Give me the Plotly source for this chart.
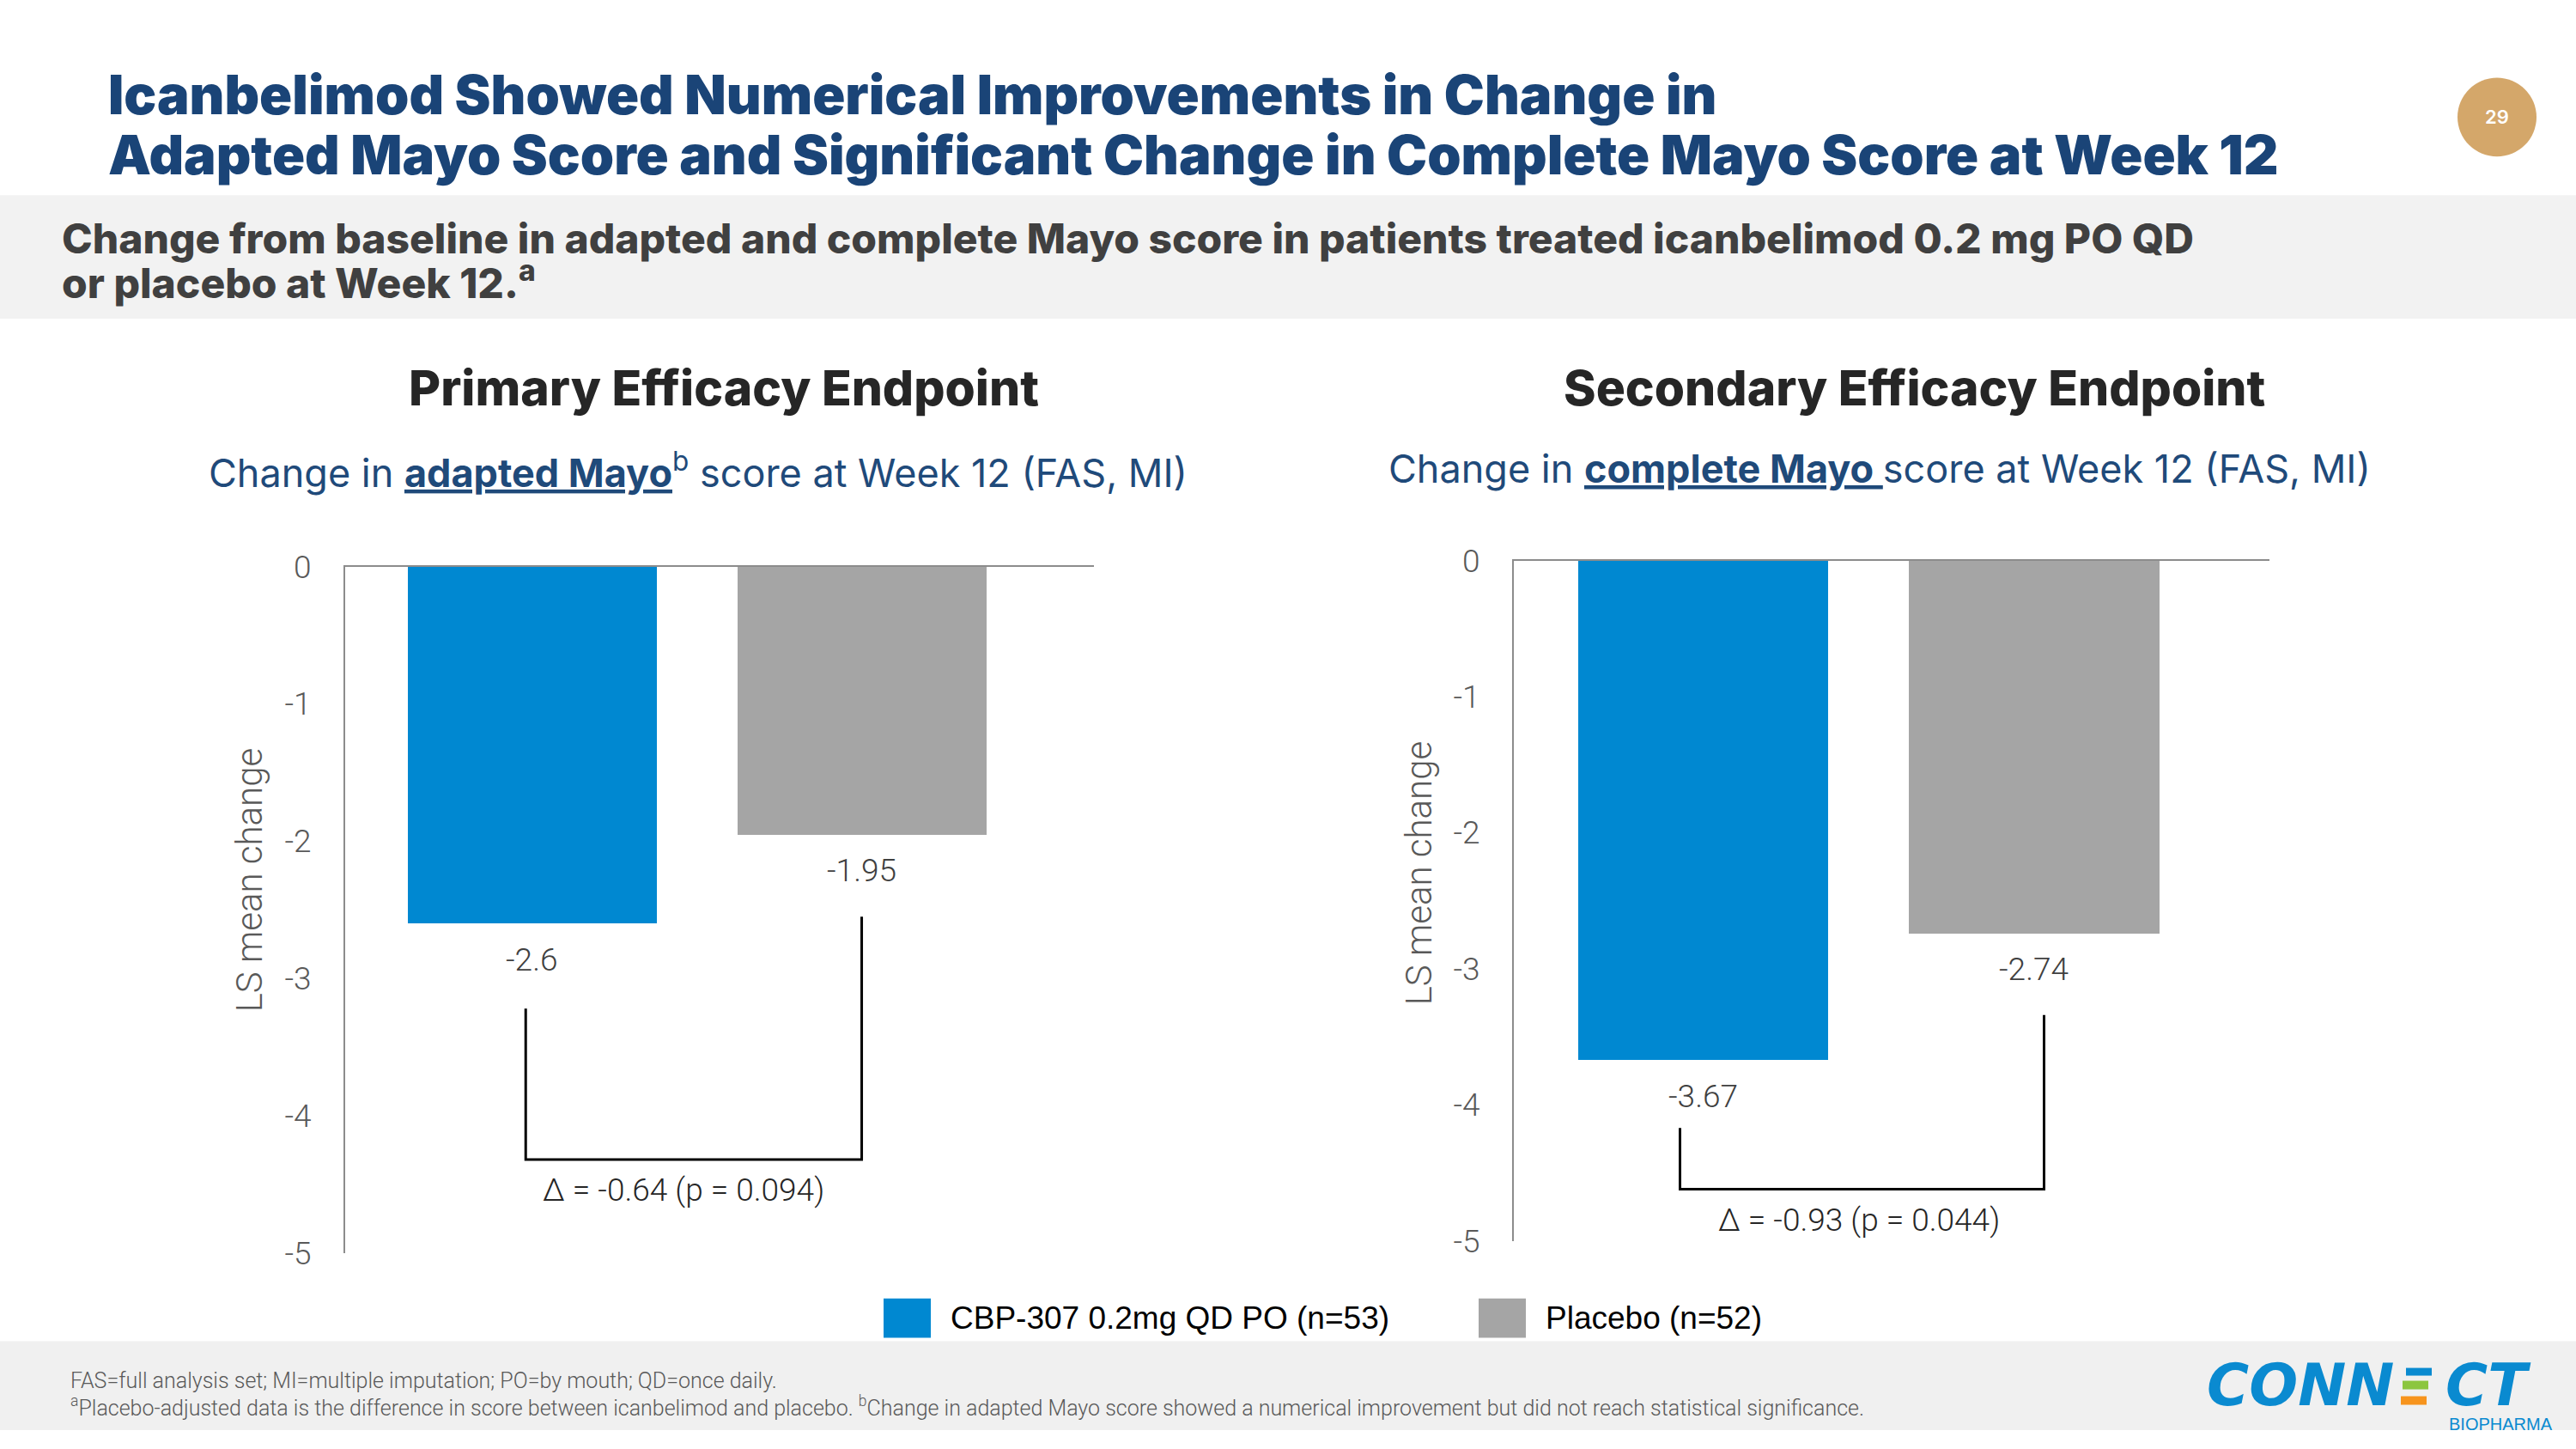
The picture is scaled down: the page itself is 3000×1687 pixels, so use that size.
import plotly.graph_objects as go

W, H = 3000, 1687

# ---------------- data ----------------
groups = ["CBP-307 0.2mg QD PO (n=53)", "Placebo (n=52)"]
bar_colors = ["#0088D1", "#A5A5A5"]
adapted_mayo = [-2.6, -1.95]        # primary endpoint, LS mean change
complete_mayo = [-3.67, -2.74]      # secondary endpoint, LS mean change
delta_labels = ["Δ = -0.64 (p = 0.094)", "Δ = -0.93 (p = 0.044)"]
y_ticks = [0, -1, -2, -3, -4, -5]
y_tick_labels = ["0", "-1", "-2", "-3", "-4", "-5"]
y_title = "LS mean change"
panel_titles = ["Primary Efficacy Endpoint", "Secondary Efficacy Endpoint"]
panel_subtitles = [
    "Change in <b><u>adapted Mayo</u></b><sup>b</sup> score at Week 12 (FAS, MI)",
    "Change in <b><u>complete Mayo </u></b>score at Week 12 (FAS, MI)",
]
title_lines = [
    "Icanbelimod Showed Numerical Improvements in Change in",
    "Adapted Mayo Score and Significant Change in Complete Mayo Score at Week 12",
]
subtitle_lines = [
    "Change from baseline in adapted and complete Mayo score in patients treated icanbelimod 0.2 mg PO QD",
    "or placebo at Week 12.<sup>a</sup>",
]
footnotes = [
    "FAS=full analysis set; MI=multiple imputation; PO=by mouth; QD=once daily.",
    "<sup>a</sup>Placebo-adjusted data is the difference in score between icanbelimod and placebo. "
    "<sup>b</sup>Change in adapted Mayo score showed a numerical improvement but did not reach statistical significance.",
]
# bracket geometry (offsets below each bar value, bottom level, leg x positions)
bracket_gap = [[0.62, 0.60], [0.50, 0.60]]
bracket_bottom = [-4.32, -4.62]
bracket_x = [[-0.02, 1.0], [-0.07, 1.03]]
delta_x = [0.46, 0.47]

# ---------------- helpers ----------------
# vertical placement helper (slide pixel -> paper fraction, with the
# capture's vertical scale/offset taken into account)
V_SCALE = 1729 / 1687
V_OFF = 21

def px(x):
    return x / W

def py(y):
    return 1 - (y * V_SCALE - V_OFF) / H

def sh(v):
    return v * V_SCALE

TXT_GRAY = "#595959"
AXIS_GRAY = "#8C8C8C"
FOOTER_GRAY = "#F0F0F0"

fig = go.Figure()

panels = [adapted_mayo, complete_mayo]
axis_ids = [("x", "y"), ("x2", "y2")]
x_domains = [[px(402), px(1274)], [px(1763), px(2643)]]
y_domains = [[py(1460), py(660)], [py(1446), py(653)]]
x_ranges = [[-0.568, 1.705], [-0.572, 1.711]]
y_title_pos = [(290, 1026), (1652, 1018)]

for i, vals in enumerate(panels):
    xa, ya = axis_ids[i]
    fig.add_trace(go.Bar(
        x=[0, 1], y=vals, width=0.756,
        marker=dict(color=bar_colors, line=dict(width=0)),
        xaxis=xa, yaxis=ya, showlegend=False, hoverinfo="skip",
    ))
    # value labels below bars
    for j, v in enumerate(vals):
        fig.add_annotation(
            x=j, y=v, xref=xa, yref=ya, text=str(v), showarrow=False,
            yanchor="middle", yshift=-sh(41),
            font=dict(family="Roboto", size=37, color="#404040", weight=300),
        )
    # bracket
    xl, xr = bracket_x[i]
    yl = vals[0] - bracket_gap[i][0]
    yr = vals[1] - bracket_gap[i][1]
    yb = bracket_bottom[i]
    fig.add_trace(go.Scatter(
        x=[xl, xl, xr, xr], y=[yl, yb, yb, yr], mode="lines",
        line=dict(color="#000000", width=3), xaxis=xa, yaxis=ya,
        showlegend=False, hoverinfo="skip",
    ))
    fig.add_annotation(
        x=delta_x[i], y=yb, xref=xa, yref=ya, text=delta_labels[i],
        showarrow=False, yanchor="middle", yshift=-sh(35),
        font=dict(family="Roboto", size=37, color="#262626", weight=300),
    )
    # y-axis title
    tx, ty = y_title_pos[i]
    fig.add_annotation(
        x=px(tx), y=py(ty), xref="paper", yref="paper", text=y_title,
        showarrow=False, textangle=-90, xanchor="center", yanchor="middle",
        font=dict(family="Roboto", size=42, color=TXT_GRAY, weight=300),
    )

layout_axes = {}
for i in range(2):
    xkey = "xaxis" if i == 0 else "xaxis2"
    ykey = "yaxis" if i == 0 else "yaxis2"
    xa, ya = axis_ids[i]
    layout_axes[xkey] = dict(
        domain=x_domains[i], range=x_ranges[i], anchor=ya, side="top",
        showline=True, linecolor=AXIS_GRAY, linewidth=2,
        showticklabels=False, showgrid=False, zeroline=False, ticks="",
        fixedrange=True,
    )
    layout_axes[ykey] = dict(
        domain=y_domains[i], range=[-5, 0], anchor=xa,
        showline=True, linecolor=AXIS_GRAY, linewidth=2,
        tickvals=y_ticks, ticktext=y_tick_labels, ticks="",
        ticklabelstandoff=30,
        tickfont=dict(family="Roboto", size=37, color=TXT_GRAY, weight=300),
        showgrid=False, zeroline=False,
        fixedrange=True,
    )

shapes = [
    # subtitle band
    dict(type="rect", xref="paper", yref="paper", x0=0, x1=1, y0=py(371), y1=py(227),
         fillcolor="#F2F2F2", line=dict(width=0), layer="below"),
    # footer band
    dict(type="rect", xref="paper", yref="paper", x0=0, x1=1, y0=0, y1=py(1563),
         fillcolor=FOOTER_GRAY, line=dict(width=0), layer="below"),
    # page number circle
    dict(type="circle", xref="paper", yref="paper", x0=px(2862), x1=px(2954),
         y0=py(182), y1=py(90), fillcolor="#D4A76A", line=dict(width=0)),
]

annotations = list(fig.layout.annotations)

# title
for line, yc in zip(title_lines, [110, 180]):
    annotations.append(dict(
        x=px(124), y=py(yc), xref="paper", yref="paper", text=line, showarrow=False,
        xanchor="left", yanchor="middle",
        font=dict(family="Inter", size=63, color="#1A4477", weight=900),
    ))
# page number
annotations.append(dict(
    x=px(2908), y=py(136), xref="paper", yref="paper", text="29", showarrow=False,
    xanchor="center", yanchor="middle",
    font=dict(family="Inter", size=22, color="#FFFFFF", weight=600),
))
# subtitle band text
for line, yc in zip(subtitle_lines, [277, 326]):
    annotations.append(dict(
        x=px(70), y=py(yc), xref="paper", yref="paper", text=line, showarrow=False,
        xanchor="left", yanchor="middle",
        font=dict(family="Inter", size=48, color="#404040", weight=800),
    ))
# panel titles and subtitles
for t, xc in zip(panel_titles, [843, 2229]):
    annotations.append(dict(
        x=px(xc), y=py(452), xref="paper", yref="paper", text=t, showarrow=False,
        xanchor="center", yanchor="middle",
        font=dict(family="Inter", size=57, color="#262626", weight=800),
    ))
for s, xc, ys in zip(panel_subtitles, [813, 2189], [548, 546]):
    annotations.append(dict(
        x=px(xc), y=py(ys), xref="paper", yref="paper", text=s, showarrow=False,
        xanchor="center", yanchor="middle",
        font=dict(family="Inter", size=45, color="#1F4A7A", weight=400),
    ))

# custom legend
legend_x = [1029, 1722]
for name, col, lx in zip(groups, bar_colors, legend_x):
    shapes.append(dict(type="rect", xref="paper", yref="paper",
                       x0=px(lx), x1=px(lx + 55), y0=py(1559), y1=py(1513),
                       fillcolor=col, line=dict(width=0)))
    annotations.append(dict(
        x=px(lx + 76), y=py(1536), xref="paper", yref="paper", text=name,
        showarrow=False, xanchor="left", yanchor="middle",
        font=dict(family="Liberation Sans", size=37, color="#000000"),
    ))

# footnotes
for line, yc in zip(footnotes, [1609, 1639]):
    annotations.append(dict(
        x=px(80), y=py(yc), xref="paper", yref="paper", text=line, showarrow=False,
        xanchor="left", yanchor="middle",
        font=dict(family="Roboto", size=25, color=TXT_GRAY, weight=300),
    ))

# logo (approximation)
LOGO_BLUE = "#0A8AD0"
annotations.append(dict(
    x=px(2568), y=py(1614), xref="paper", yref="paper", text="<i>CONN</i>",
    showarrow=False, xanchor="left", yanchor="middle",
    font=dict(family="DejaVu Sans", size=67, color=LOGO_BLUE, weight=800),
))
annotations.append(dict(
    x=px(2950), y=py(1614), xref="paper", yref="paper", text="<i>CT</i>",
    showarrow=False, xanchor="right", yanchor="middle",
    font=dict(family="DejaVu Sans", size=67, color=LOGO_BLUE, weight=800),
))
for (x0, x1, y0, y1, c) in [(2802, 2832, 1594, 1603, LOGO_BLUE),
                            (2798, 2828, 1609, 1619, "#8CC63F"),
                            (2796, 2826, 1627, 1637, "#F7941D")]:
    shapes.append(dict(type="rect", xref="paper", yref="paper",
                       x0=px(x0), x1=px(x1), y0=py(y1), y1=py(y0),
                       fillcolor=c, line=dict(width=0)))
annotations.append(dict(
    x=px(2975), y=py(1660), xref="paper", yref="paper", text="BIOPHARMA",
    showarrow=False, xanchor="right", yanchor="middle",
    font=dict(family="Liberation Sans", size=20, color=LOGO_BLUE),
))

fig.update_layout(
    width=W, height=H, margin=dict(l=0, r=0, t=0, b=0),
    paper_bgcolor="#FFFFFF", plot_bgcolor="rgba(0,0,0,0)",
    showlegend=False, shapes=shapes, annotations=annotations,
    bargap=0, **layout_axes,
)

fig.write_html(
    "out.html",
    config={"displayModeBar": False},
    post_script=(
        "document.body.style.margin='0';"
        "document.documentElement.style.overflow='hidden';"
        "document.body.style.overflow='hidden';"
        "var bg='linear-gradient(#FFFFFF 50%%, %s 50%%)';"
        "document.documentElement.style.background=bg;"
        "document.documentElement.style.minHeight='100%%';"
        "document.body.style.background='transparent';" % FOOTER_GRAY
    ),
)
